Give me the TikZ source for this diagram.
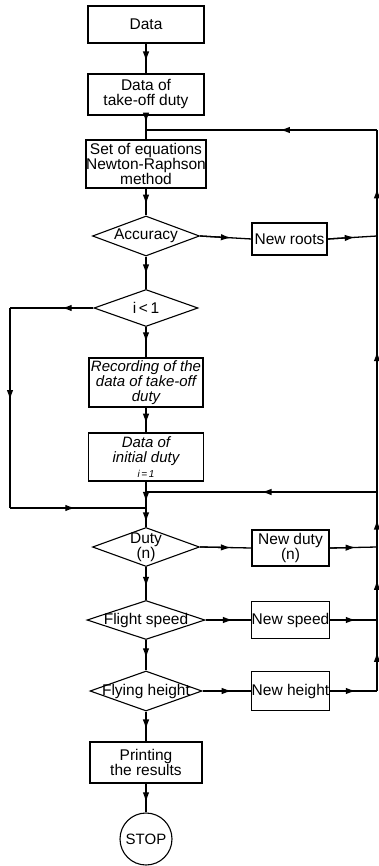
\documentclass[tikz,border=0pt]{standalone}
\usepackage{fontspec}
\setmainfont{Liberation Sans}
\usetikzlibrary{shapes.geometric,arrows.meta,calc}
\tikzset{
  box/.style={draw, line width=1.1pt, rectangle, inner sep=0pt, align=center, font=\fontsize{15.5}{15}\selectfont},
  dia/.style={draw, line width=1.1pt, diamond, inner sep=0pt},
  dtext/.style={font=\fontsize{15.5}{15}\selectfont, align=center},
  ln/.style={line width=1.3pt},
  tip/.style={line width=1.3pt, -{Latex[length=10pt,width=6.5pt]}}
}
% connector with a mid-line arrowhead at fraction #3
\newcommand\conn[3]{\draw[ln] (#1) -- (#2); \draw[tip] (#1) -- ($(#1)!#3!(#2)$);}
\begin{document}
\begin{tikzpicture}[x=1pt,y=-1pt]
\useasboundingbox (0,0) rectangle (379,866);
% main column
\node[box, minimum width=116pt, minimum height=37pt] (data) at (146,24.5) {Data};
\node[box, minimum width=116pt, minimum height=41pt] (tod) at (146,94.5) {Data of\\take-off duty};
\node[box, minimum width=120pt, minimum height=48pt] (neq) at (146,164) {Set of equations\\Newton-Raphson\\method};
\node[dia, minimum width=107pt, minimum height=40pt, label={[dtext]center:Accuracy}] (acc) at (146,236) {};
\node[box, minimum width=75pt, minimum height=32pt] (nroots) at (289.5,239) {New roots};
\node[dia, minimum width=104pt, minimum height=37pt, label={[dtext]center:i\,<\,1}] (ilt) at (146,308) {};
\node[box, minimum width=114pt, minimum height=49pt, font=\fontsize{15}{15}\selectfont\itshape] (rec) at (146,382.5) {Recording of the\\data of take-off\\duty};
\node[box, minimum width=115pt, minimum height=48pt, font=\fontsize{15}{15}\selectfont\itshape] (ini) at (146,457) {Data of\\initial duty\\{\fontsize{10}{10}\selectfont i\,=\,1}};
\node[dia, minimum width=107pt, minimum height=39pt, label={[dtext]center:Duty\\(n)}] (duty) at (146,547) {};
\node[box, minimum width=77pt, minimum height=36pt] (nduty) at (290.5,548) {New duty\\(n)};
\node[dia, minimum width=118pt, minimum height=39pt, label={[dtext]center:Flight speed}] (fsp) at (146,620) {};
\node[box, minimum width=77pt, minimum height=37pt] (nspeed) at (290.5,620) {New speed};
\node[dia, minimum width=112pt, minimum height=40pt, label={[dtext]center:Flying height}] (fht) at (146,691) {};
\node[box, minimum width=77pt, minimum height=39pt] (nheight) at (290.5,691) {New height};
\node[box, minimum width=112pt, minimum height=41pt] (prn) at (146,762.5) {Printing\\the results};
\node[draw, line width=1.1pt, circle, minimum size=52pt, inner sep=0pt, font=\fontsize{15}{15}\selectfont] (stop) at (146,839) {STOP};
% junctions
\coordinate (j1) at (146,130);
\coordinate (j2) at (146,492);
\coordinate (j3) at (146,508);
\coordinate (r1) at (377,130);
\coordinate (r2) at (377,236);
\coordinate (r3) at (377,492);
\coordinate (r4) at (377,547);
\coordinate (r5) at (377,620);
\coordinate (r6) at (377,691);
\coordinate (l1) at (10,308);
\coordinate (l2) at (10,508);
% main flow
\conn{data.south}{tod.north}{0.6}
\conn{tod.south}{neq.north}{0.3}
\conn{neq.south}{acc.north}{0.6}
\conn{acc.south}{ilt.north}{0.55}
\conn{ilt.south}{rec.north}{0.5}
\conn{rec.south}{ini.north}{0.65}
\draw[ln] (ini.south) -- (duty.north);
\draw[tip] (ini.south) -- ($(ini.south)!0.45!(duty.north)$);
\draw[tip] (ini.south) -- ($(ini.south)!0.9!(duty.north)$);
\conn{duty.south}{fsp.north}{0.6}
\conn{fsp.south}{fht.north}{0.6}
\conn{fht.south}{prn.north}{0.6}
\conn{prn.south}{stop.north}{0.65}
% side branches
\conn{acc.east}{nroots.west}{0.6}
\conn{nroots.east}{r2}{0.55}
\conn{duty.east}{nduty.west}{0.6}
\conn{nduty.east}{r4}{0.55}
\conn{fsp.east}{nspeed.west}{0.6}
\conn{nspeed.east}{r5}{0.55}
\conn{fht.east}{nheight.west}{0.6}
\conn{nheight.east}{r6}{0.55}
% right return line
\conn{r6}{r5}{0.55}
\conn{r5}{r4}{0.55}
\conn{r4}{r3}{0.5}
\conn{r3}{r2}{0.55}
\conn{r2}{r1}{0.45}
\conn{r1}{j1}{0.42}
\conn{r3}{j2}{0.5}
% left loop
\conn{ilt.west}{l1}{0.38}
\conn{l1}{l2}{0.46}
\conn{l2}{j3}{0.48}
\end{tikzpicture}
\end{document}
